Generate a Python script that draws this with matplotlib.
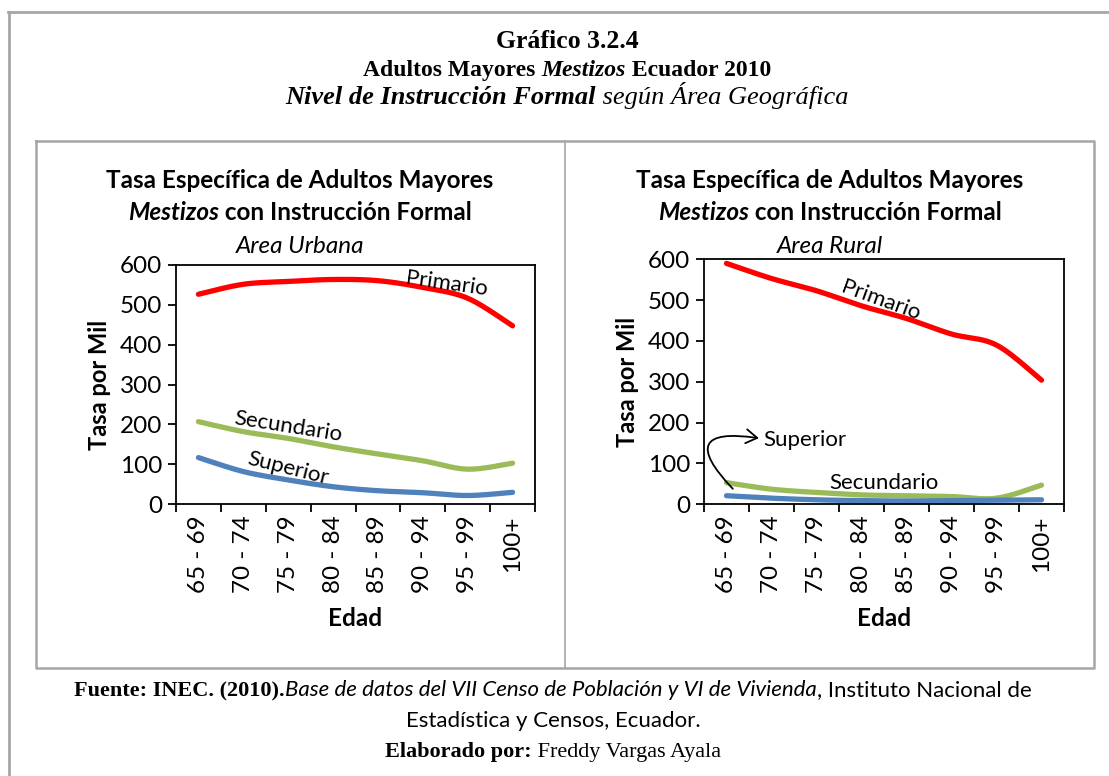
import numpy as np
import matplotlib
matplotlib.use("Agg")
import matplotlib.pyplot as plt
from matplotlib.lines import Line2D

# ---------------- data ----------------
categories = ["65 - 69", "70 - 74", "75 - 79", "80 - 84", "85 - 89", "90 - 94", "95 - 99", "100+"]
urb_primario = [526, 551, 558, 563, 560, 543, 516, 447]
urb_secundario = [207, 182, 165, 144, 126, 109, 88, 103]
urb_superior = [117, 82, 61, 44, 34, 29, 22, 30]
rur_primario = [590, 553, 523, 486, 455, 417, 390, 304]
rur_secundario = [53, 37, 29, 23, 21, 19, 15, 47]
rur_superior = [21, 15, 11, 9, 8, 9, 10, 11]
y_ticks = [0, 100, 200, 300, 400, 500, 600]

C_PRI = "#FF0000"
C_SEC = "#9BBB59"
C_SUP = "#4F81BD"

W, H = 1109, 776
fig = plt.figure(figsize=(W / 100, H / 100), dpi=100)
fig.patch.set_facecolor("white")
SANS = "Lato"
SERIF = "Liberation Serif"


def fx(x):
    return x / W


def fy(y):
    return 1 - y / H


def smooth(vals, n=24):
    v = np.asarray(vals, dtype=float)
    xs = np.arange(len(v), dtype=float)
    px = np.concatenate([[xs[0]], xs, [xs[-1]]])
    pv = np.concatenate([[v[0]], v, [v[-1]]])
    outx, outy = [], []
    for i in range(len(v) - 1):
        p0x, p1x, p2x, p3x = px[i], px[i + 1], px[i + 2], px[i + 3]
        p0, p1, p2, p3 = pv[i], pv[i + 1], pv[i + 2], pv[i + 3]
        b1x, b1 = p1x + (p2x - p0x) / 6, p1 + (p2 - p0) / 6
        b2x, b2 = p2x - (p3x - p1x) / 6, p2 - (p3 - p1) / 6
        t = np.linspace(0, 1, n, endpoint=(i == len(v) - 2))
        a = (1 - t) ** 3
        b = 3 * (1 - t) ** 2 * t
        c = 3 * (1 - t) * t ** 2
        d = t ** 3
        outx.append(a * p1x + b * b1x + c * b2x + d * p2x)
        outy.append(a * p1 + b * b1 + c * b2 + d * p2)
    return np.concatenate(outx), np.concatenate(outy)


renderer = fig.canvas.get_renderer()


def rich(segments, cx, cy):
    """segments: list of (text, kwargs). centred at pixel cx, baseline pixel cy"""
    texts = []
    widths = []
    for s, kw in segments:
        t = fig.text(0, fy(cy), s, ha="left", va="baseline", **kw)
        bb = t.get_window_extent(renderer)
        texts.append(t)
        widths.append(bb.width)
    total = sum(widths)
    x = cx - total / 2
    for t, w in zip(texts, widths):
        t.set_x(fx(x))
        x += w


# ---------------- frames ----------------
gray = "#A6A6A6"
fig.add_artist(Line2D([fx(8), fx(1109)], [fy(12), fy(12)], color=gray, lw=2))
fig.add_artist(Line2D([fx(9), fx(9)], [fy(12), fy(776)], color=gray, lw=2))
fig.add_artist(Line2D([fx(36), fx(1094), fx(1094), fx(36), fx(36)],
                      [fy(141), fy(141), fy(668), fy(668), fy(141)], color=gray, lw=1.8))
fig.add_artist(Line2D([fx(565), fx(565)], [fy(141), fy(668)], color=gray, lw=1.2))

# ---------------- header ----------------
rich([("Gráfico 3.2.4", dict(family=SERIF, weight="bold", size=18.5))], 567, 48)
rich([("Adultos Mayores ", dict(family=SERIF, weight="bold", size=17)),
      ("Mestizos", dict(family=SERIF, weight="bold", style="italic", size=17)),
      (" Ecuador 2010", dict(family=SERIF, weight="bold", size=17))], 567, 76)
rich([("Nivel de Instrucción Formal", dict(family=SERIF, weight="bold", style="italic", size=19)),
      (" según Área Geográfica", dict(family=SERIF, style="italic", size=19))], 567, 104)

# ---------------- footer ----------------
rich([("Fuente: INEC. (2010).", dict(family=SERIF, weight="bold", size=16)),
      ("Base de datos del VII Censo de Población y VI de Vivienda", dict(family=SANS, style="italic", size=16)),
      (", Instituto Nacional de", dict(family=SANS, size=16))], 553, 696)
rich([("Estadística y Censos, Ecuador.", dict(family=SANS, size=16))], 553, 727)
rich([("Elaborado por:", dict(family=SERIF, weight="bold", size=16)),
      (" Freddy Vargas Ayala", dict(family=SERIF, size=16))], 553, 757)


# ---------------- charts ----------------
def make_axes(left, right, top, bottom):
    ax = fig.add_axes([fx(left), fy(bottom), (right - left) / W, (bottom - top) / H])
    ax.set_xlim(-0.5, len(categories) - 0.5)
    ax.set_ylim(0, 600)
    ax.set_yticks(y_ticks)
    ax.set_xticks(np.arange(-0.5, len(categories) + 0.5, 1.0))
    ax.set_xticklabels([])
    ax.set_xticks(np.arange(len(categories)), minor=True)
    ax.set_xticklabels(categories, minor=True, rotation=90, family=SANS, fontsize=17.5)
    ax.tick_params(axis="x", which="major", direction="out", length=6, width=1.3)
    ax.tick_params(axis="x", which="minor", length=0, pad=8)
    ax.tick_params(axis="y", direction="out", length=6, width=1.3, labelsize=17.5, pad=4)
    for lab in ax.get_yticklabels():
        lab.set_family(SANS)
    for sp in ax.spines.values():
        sp.set_linewidth(1.3)
        sp.set_color("black")
    ax.set_ylabel("Tasa por Mil", family=SANS, weight="bold", fontsize=17, labelpad=6)
    ax.set_xlabel("Edad", family=SANS, weight="bold", fontsize=17.5, labelpad=10)
    return ax


def plot_series(ax, vals, color):
    xs, ys = smooth(vals)
    ax.plot(xs, ys, color=color, lw=3.8, solid_capstyle="round", clip_on=False)


def chart_title(cx, area):
    rich([("Tasa Específica de Adultos Mayores", dict(family=SANS, weight="bold", size=17.5))], cx, 188)
    rich([("Mestizos", dict(family=SANS, weight="bold", style="italic", size=17.5)),
          (" con Instrucción Formal", dict(family=SANS, weight="bold", size=17.5))], cx, 220)
    rich([(area, dict(family=SANS, style="italic", size=17.5))], cx, 253)


# Urban
ax1 = make_axes(176, 535, 264.7, 504.3)
plot_series(ax1, urb_primario, C_PRI)
plot_series(ax1, urb_secundario, C_SEC)
plot_series(ax1, urb_superior, C_SUP)
ax1.text(5.54, 553, "Primario", family=SANS, fontsize=16, rotation=-8, ha="center", va="center")
ax1.text(2.01, 194, "Secundario", family=SANS, fontsize=16, rotation=-9, ha="center", va="center")
ax1.text(1.99, 90, "Superior", family=SANS, fontsize=16, rotation=-14, ha="center", va="center")
chart_title(300, "Area Urbana")

# Rural
ax2 = make_axes(704, 1064, 259.3, 504.3)
plot_series(ax2, rur_primario, C_PRI)
plot_series(ax2, rur_secundario, C_SEC)
plot_series(ax2, rur_superior, C_SUP)
ax2.text(3.44, 500, "Primario", family=SANS, fontsize=16, rotation=-20, ha="center", va="center")
ax2.text(3.5, 53, "Secundario", family=SANS, fontsize=16, ha="center", va="center")
ax2.text(0.82, 157, "Superior", family=SANS, fontsize=16, ha="left", va="center")
ax2.annotate("", xy=(0.72, 162), xytext=(0.14, 38),
             arrowprops=dict(arrowstyle="->,head_length=0.8,head_width=0.5", lw=1.3,
                             color="black", connectionstyle="arc3,rad=-1.45",
                             shrinkA=0, shrinkB=0), annotation_clip=False)
chart_title(830, "Area Rural")

fig.savefig("out.png", dpi=100, facecolor="white")
